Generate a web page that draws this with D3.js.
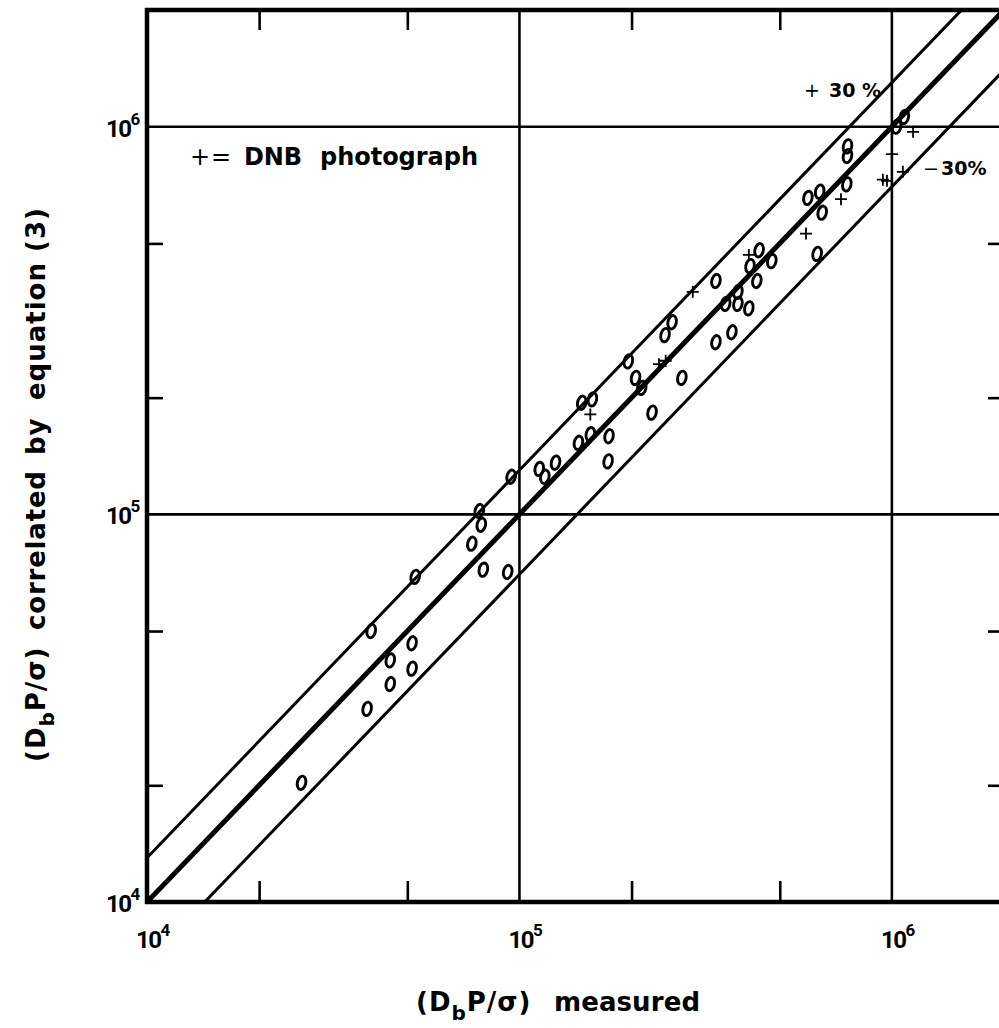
<!DOCTYPE html>
<html>
<head>
<meta charset="utf-8">
<script src="https://cdn.jsdelivr.net/npm/d3@7"></script>
<style>
  body { margin: 0; background: #fff; }
  svg { display: block; background: #fff; }
  text { font-family: "DejaVu Sans", sans-serif; font-weight: bold; fill: #000; }
  .num { font-family: Roboto, sans-serif; font-weight: 700; }
</style>
</head>
<body>
<svg id="chart" width="999" height="1028"></svg>
<script>
// circles: (measured, correlated by equation 3)
const circMeasured = [2.6e4, 3.9e4, 4.0e4, 4.5e4, 4.5e4, 5.15e4, 5.15e4, 5.25e4, 7.45e4, 7.8e4,
  7.9e4, 8.0e4, 9.3e4, 9.5e4, 1.13e5, 1.17e5, 1.25e5, 1.44e5, 1.55e5, 1.74e5,
  1.73e5, 1.47e5, 1.57e5, 1.96e5, 2.05e5, 2.13e5, 2.27e5, 2.73e5, 2.46e5, 2.57e5,
  3.37e5, 3.58e5, 3.37e5, 3.72e5, 3.86e5, 3.86e5, 4.13e5, 4.16e5, 4.34e5, 4.4e5,
  4.76e5, 6.3e5, 5.95e5, 6.4e5, 6.5e5, 7.57e5, 7.6e5, 7.6e5, 1.03e6, 1.08e6];
const circCorrelated = [2.03e4, 3.15e4, 5.0e4, 4.2e4, 3.65e4, 4.65e4, 4.0e4, 6.9e4, 8.4e4, 1.02e5,
  9.4e4, 7.2e4, 7.1e4, 1.25e5, 1.31e5, 1.25e5, 1.36e5, 1.53e5, 1.61e5, 1.59e5,
  1.37e5, 1.94e5, 1.98e5, 2.48e5, 2.25e5, 2.12e5, 1.83e5, 2.25e5, 2.9e5, 3.13e5,
  4.0e5, 3.49e5, 2.78e5, 2.95e5, 3.75e5, 3.49e5, 3.4e5, 4.37e5, 4.0e5, 4.8e5,
  4.5e5, 4.7e5, 6.55e5, 6.8e5, 6.0e5, 7.1e5, 8.9e5, 8.4e5, 1.0e6, 1.06e6];

// + = DNB photograph
const plusMeasured = [1.55e5, 2.37e5, 2.47e5, 2.92e5, 4.13e5, 5.88e5, 7.3e5, 1.0e6, 9.46e5, 9.7e5, 1.07e6, 1.14e6];
const plusCorrelated = [1.81e5, 2.44e5, 2.49e5, 3.75e5, 4.67e5, 5.3e5, 6.5e5, 8.5e5, 7.3e5, 7.25e5, 7.65e5, 9.7e5];

const bandFactors = [1.3, 1, 0.7];
const decades = [1e4, 1e5, 1e6];
const gridValues = [1e5, 1e6];
const minorTicks = [2e4, 5e4, 2e5, 5e5];
const domain = [1e4, 2e6];

const svg = d3.select('#chart');
const pLeft = 147, pRight = 1004, pTop = 10, pBottom = 902;

const x = d3.scaleLog().domain(domain).range([pLeft, pRight]);
const y = d3.scaleLog().domain(domain).range([pBottom, pTop]);

svg.append('defs').append('clipPath').attr('id', 'plot')
  .append('rect')
  .attr('x', pLeft).attr('y', pTop)
  .attr('width', pRight - pLeft).attr('height', pBottom - pTop);

// grid at decades
const grid = svg.append('g').attr('stroke', '#000').attr('stroke-width', 2.6);
grid.selectAll('line.v').data(gridValues).join('line')
  .attr('class', 'v')
  .attr('x1', d => x(d)).attr('x2', d => x(d))
  .attr('y1', pTop).attr('y2', pBottom);
grid.selectAll('line.h').data(gridValues).join('line')
  .attr('class', 'h')
  .attr('y1', d => y(d)).attr('y2', d => y(d))
  .attr('x1', pLeft).attr('x2', pRight);

// minor ticks, pointing inwards on all four sides
const tickAxis = (axis, tr, size) => {
  const g = svg.append('g')
    .attr('transform', tr)
    .call(axis.tickValues(minorTicks).tickSizeInner(-size).tickSizeOuter(0).tickFormat(''));
  g.select('.domain').remove();
  g.selectAll('line').attr('stroke', '#000').attr('stroke-width', 2.6);
};
tickAxis(d3.axisBottom(x), `translate(0,${pBottom})`, 21);
tickAxis(d3.axisTop(x), `translate(0,${pTop})`, 20);
tickAxis(d3.axisLeft(y), `translate(${pLeft},0)`, 16);
tickAxis(d3.axisRight(y), `translate(${pRight},0)`, 16);

// +30 %, 1:1 and -30 % lines
svg.append('g').attr('clip-path', 'url(#plot)')
  .selectAll('line').data(bandFactors).join('line')
  .attr('x1', x(domain[0])).attr('y1', d => y(domain[0] * d))
  .attr('x2', x(domain[1])).attr('y2', d => y(domain[1] * d))
  .attr('stroke', '#000')
  .attr('stroke-width', d => d === 1 ? 5 : 3);

// frame
svg.append('rect')
  .attr('x', pLeft).attr('y', pTop)
  .attr('width', pRight - pLeft).attr('height', pBottom - pTop)
  .attr('fill', 'none').attr('stroke', '#000').attr('stroke-width', 4.5);

// circle points
const circles = circMeasured.map((m, i) => ({ m, c: circCorrelated[i] }));
svg.append('g')
  .selectAll('ellipse').data(circles).join('ellipse')
  .attr('transform', d => `translate(${x(d.m)},${y(d.c)}) rotate(12)`)
  .attr('rx', 4.2).attr('ry', 6.8)
  .attr('fill', 'none').attr('stroke', '#000').attr('stroke-width', 2.9);

// plus points
const pluses = plusMeasured.map((m, i) => ({ m, c: plusCorrelated[i] }));
svg.append('g')
  .selectAll('path').data(pluses).join('path')
  .attr('transform', d => `translate(${x(d.m)},${y(d.c)})`)
  .attr('d', 'M-6,0H6M0,-6V6')
  .attr('stroke', '#000').attr('stroke-width', 1.8);

// decade labels
const labels = svg.append('g');
decades.forEach(d => {
  const t = labels.append('text').attr('class', 'num')
    .attr('x', x(d) - 11).attr('y', 948)
    .style('font-size', '24px').style('letter-spacing', '-1.5px');
  t.append('tspan').text('10');
  t.append('tspan').attr('dy', -12).style('font-size', '17px').text(String(Math.log10(d)));
});
decades.forEach(d => {
  const t = labels.append('text').attr('class', 'num')
    .attr('x', 106).attr('y', y(d) + 10)
    .style('font-size', '24px').style('letter-spacing', '-1.5px');
  t.append('tspan').text('10');
  t.append('tspan').attr('dy', -12).style('font-size', '17px').text(String(Math.log10(d)));
});

// legend
const leg = svg.append('text').attr('y', 165).style('font-size', '24px');
leg.append('tspan').attr('x', 190).style('font-weight', 'normal').text('+');
leg.append('tspan').attr('x', 211).style('font-weight', 'normal').text('=');
leg.append('tspan').attr('x', 244).attr('textLength', 58).text('DNB');
leg.append('tspan').attr('x', 320).attr('textLength', 158).text('photograph');

// band labels
const band = svg.append('g').style('font-size', '19px');
const up = band.append('text').attr('y', 97);
up.append('tspan').attr('x', 804).style('font-weight', 'normal').text('+');
up.append('tspan').attr('x', 829).text('30');
up.append('tspan').attr('x', 862).text('%');
const dn = band.append('text').attr('y', 175);
dn.append('tspan').attr('x', 923).style('font-weight', 'normal').text('\u2212');
dn.append('tspan').attr('x', 941).text('30%');

// x title
const xt = svg.append('text').attr('y', 1011)
  .style('font-size', '26px').style('letter-spacing', '1px');
xt.append('tspan').attr('x', 416).text('(D');
xt.append('tspan').attr('dy', 9).style('font-size', '20px').text('b');
xt.append('tspan').attr('dy', -9).text('P/\u03C3)');
svg.append('text').attr('x', 554).attr('y', 1011)
  .attr('textLength', 146).style('font-size', '26px').text('measured');

// y title
const yt = svg.append('text')
  .attr('transform', 'translate(45,762) rotate(-90)')
  .style('font-size', '26px').style('letter-spacing', '1px');
yt.append('tspan').text('(D');
yt.append('tspan').attr('dy', 9).style('font-size', '20px').text('b');
yt.append('tspan').attr('dy', -9).text('P/\u03C3)');
yt.append('tspan').attr('x', 132).attr('textLength', 160).text('correlated');
yt.append('tspan').attr('x', 307).text('by');
yt.append('tspan').attr('x', 362).attr('textLength', 138).text('equation');
yt.append('tspan').attr('x', 510).text('(3)');
</script>
</body>
</html>
